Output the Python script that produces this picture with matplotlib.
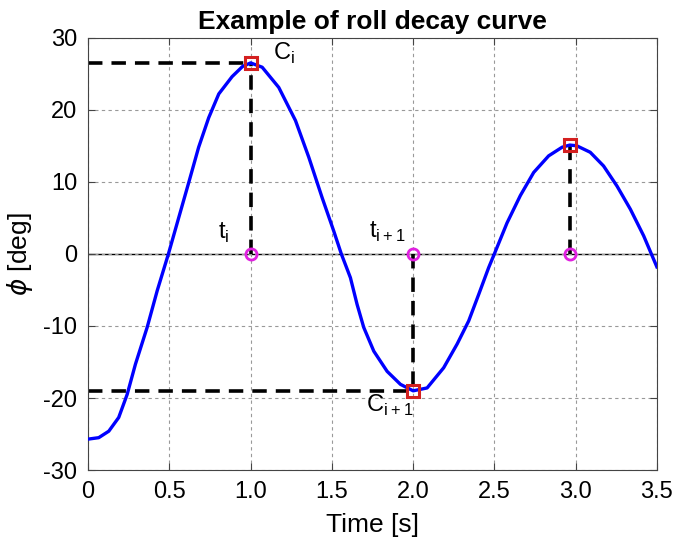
import matplotlib
matplotlib.use("Agg")
from matplotlib import pyplot as plt

# roll decay curve
time = [0.0, 0.065, 0.127, 0.188, 0.24, 0.291, 0.363, 0.425, 0.494, 0.557, 0.619,
        0.68, 0.742, 0.804, 0.886, 0.95, 1.0, 1.071, 1.173, 1.276, 1.358, 1.44,
        1.511, 1.558, 1.614, 1.655, 1.696, 1.758, 1.84, 1.922, 2.0, 2.086, 2.188,
        2.271, 2.342, 2.404, 2.465, 2.5, 2.578, 2.66, 2.742, 2.834, 2.917, 2.964,
        3.007, 3.09, 3.172, 3.255, 3.337, 3.419, 3.5]
roll = [-25.7, -25.5, -24.6, -22.7, -19.5, -15.3, -10.2, -5.1, 0.0, 5.0, 9.9,
        14.8, 18.9, 22.2, 24.6, 26.0, 26.5, 25.9, 23.1, 18.5, 13.4, 7.8,
        3.2, 0.0, -3.3, -7.0, -10.2, -13.5, -16.3, -18.1, -19.0, -18.6, -15.8,
        -12.5, -9.3, -5.6, -1.9, 0.0, 4.3, 8.1, 11.3, 13.6, 14.8, 15.1,
        15.0, 14.1, 12.2, 9.4, 6.2, 2.5, -1.8]

peak_t = [1.0, 2.0, 2.964]
peak_phi = [26.5, -19.0, 15.1]

x_ticks = [0, 0.5, 1.0, 1.5, 2.0, 2.5, 3.0, 3.5]
x_tick_labels = ["0", "0.5", "1.0", "1.5", "2.0", "2.5", "3.0", "3.5"]
y_ticks = [-30, -20, -10, 0, 10, 20, 30]

plt.rcParams["font.family"] = ["Liberation Sans", "DejaVu Sans"]
plt.rcParams["mathtext.fontset"] = "dejavusans"
plt.rcParams["axes.unicode_minus"] = False

fig = plt.figure(figsize=(6.73, 5.46), dpi=100)
ax = fig.add_axes([0.131, 0.139, 0.845, 0.792])

ax.axhline(0, color="black", lw=1.0, zorder=1)

# dashed guides from peaks
for i in range(2):
    ax.plot([0, peak_t[i]], [peak_phi[i], peak_phi[i]], "k--", lw=2.6, dashes=(4, 2.5), zorder=2)
for i in range(3):
    ax.plot([peak_t[i], peak_t[i]], [0, peak_phi[i]], "k--", lw=2.6, dashes=(4, 2.5), zorder=2)

ax.plot(time, roll, color="#0000ff", lw=2.4, zorder=3)

ax.plot(peak_t, peak_phi, "s", ms=9, mfc="none", mec="#d42020", mew=2.2, zorder=4)
ax.plot(peak_t, [0, 0, 0], "o", ms=8, mfc="none", mec="#e020e0", mew=2.0, zorder=4)

ax.text(1.14, 27.8, "C$_\\mathregular{i}$", fontsize=17, va="center")
ax.text(0.80, 2.9, "t$_\\mathregular{i}$", fontsize=17, va="center")
ax.text(1.73, 3.0, "t$_\\mathregular{i+1}$", fontsize=17, va="center")
ax.text(1.71, -21.0, "C$_\\mathregular{i+1}$", fontsize=17, va="center")

ax.set_xlim(0, 3.5)
ax.set_ylim(-30, 30)
ax.set_xticks(x_ticks)
ax.set_xticklabels(x_tick_labels)
ax.set_yticks(y_ticks)
ax.tick_params(direction="in", labelsize=17, top=True, right=True, length=5,
               color="#444444", pad=8)
ax.grid(True, color="#999999", ls=(0, (3, 3)), lw=0.8)
for s in ax.spines.values():
    s.set_color("#444444")

ax.set_xlabel("Time [s]", fontsize=19, labelpad=7)
ax.set_ylabel("$\\phi$ [deg]", fontsize=19, labelpad=6)
ax.set_title("Example of roll decay curve", fontsize=19, fontweight="bold")

fig.savefig("out.png", dpi=100)
